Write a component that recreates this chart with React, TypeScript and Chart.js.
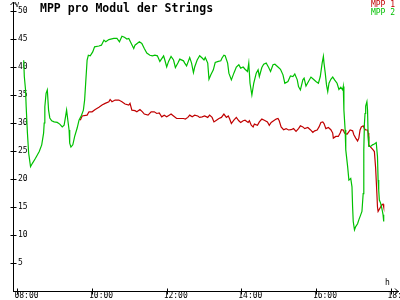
import React, { useEffect, useRef } from "react";
import { Chart, registerables } from "chart.js";

Chart.register(...registerables);

const TITLE = "MPP pro Modul der Strings";
const SERIES_LABELS = ["MPP 1", "MPP 2"];
const Y_UNIT = "V";
const X_UNIT = "h";
const Y_TICKS = [5, 10, 15, 20, 25, 30, 35, 40, 45, 50];
const X_TICK_HOURS = [8, 10, 12, 14, 16, 18];

const mpp1Times = [
  "09:41", "09:44", "09:52", "09:55", "10:00", "10:05", "10:11", "10:16", "10:21", "10:27",
  "10:29", "10:32", "10:37", "10:43", "10:48", "10:53", "10:59", "11:01", "11:04", "11:09",
  "11:12", "11:17", "11:21", "11:24", "11:30", "11:35", "11:40", "11:44", "11:48", "11:52",
  "11:56", "12:00", "12:04", "12:07", "12:11", "12:16", "12:21", "12:27", "12:30", "12:34",
  "12:37", "12:41", "12:45", "12:50", "12:53", "12:57", "13:01", "13:06", "13:09", "13:13",
  "13:16", "13:20", "13:24", "13:28", "13:32", "13:36", "13:39", "13:41", "13:44", "13:48",
  "13:52", "13:56", "13:59", "14:03", "14:06", "14:11", "14:13", "14:16", "14:19", "14:21",
  "14:26", "14:29", "14:33", "14:37", "14:42", "14:45", "14:48", "14:52", "14:56", "14:59",
  "15:01", "15:04", "15:08", "15:12", "15:16", "15:20", "15:24", "15:28", "15:32", "15:35",
  "15:39", "15:42", "15:47", "15:51", "15:55", "15:58", "16:02", "16:05", "16:08", "16:11",
  "16:13", "16:16", "16:20", "16:24", "16:27", "16:28", "16:32", "16:36", "16:39", "16:41",
  "16:44", "16:46", "16:50", "16:52", "16:55", "16:59", "17:01", "17:04", "17:07", "17:09",
  "17:11", "17:13", "17:16", "17:18", "17:20", "17:23", "17:24", "17:25", "17:28", "17:32",
  "17:34", "17:36", "17:38", "17:39", "17:40", "17:42", "17:44", "17:46", "17:48", "17:49",
];
const mpp1Values = [
  30.5, 31.25, 31.4, 32.0, 32.0, 32.4, 32.8, 33.2, 33.5, 33.8,
  34.2, 33.8, 34.1, 34.1, 33.8, 33.4, 33.2, 33.5, 32.3, 32.2,
  32.0, 32.4, 32.0, 31.6, 31.4, 32.0, 32.0, 31.7, 31.8, 31.1,
  31.4, 31.1, 31.4, 31.6, 31.25, 30.8, 30.8, 30.8, 30.7, 31.0,
  31.4, 31.1, 31.4, 31.25, 31.0, 31.1, 31.25, 31.0, 31.4, 31.0,
  30.2, 30.5, 30.8, 31.0, 31.6, 31.0, 31.25, 30.8, 29.9, 30.5,
  31.0, 30.4, 30.1, 30.4, 30.5, 30.1, 30.4, 29.6, 29.3, 29.8,
  29.6, 30.2, 30.7, 30.5, 30.2, 29.6, 30.1, 30.4, 30.7, 30.8,
  30.4, 29.3, 28.8, 29.0, 28.75, 28.8, 29.0, 28.5, 29.0, 29.5,
  29.3, 29.0, 29.2, 28.8, 28.3, 28.6, 28.75, 29.3, 30.1, 30.2,
  29.9, 29.0, 29.2, 28.8, 28.2, 27.3, 27.6, 27.6, 28.2, 28.8,
  28.75, 28.2, 28.0, 28.3, 28.75, 28.6, 27.9, 27.3, 26.8, 27.3,
  28.75, 29.3, 29.5, 29.0, 28.75, 28.75, 28.2, 26.1, 25.7, 25.2,
  24.9, 22.0, 17.5, 15.0, 14.2, 14.6, 15.0, 15.4, 15.5, 15.0,
];

const mpp2Times = [
  "08:10", "08:11", "08:13", "08:14", "08:16", "08:18", "08:21", "08:24", "08:29", "08:35",
  "08:39", "08:42", "08:43", "08:44", "08:46", "08:48", "08:50", "08:52", "08:55", "08:59",
  "09:04", "09:08", "09:12", "09:15", "09:17", "09:19", "09:21", "09:23", "09:24", "09:26",
  "09:29", "09:32", "09:36", "09:39", "09:43", "09:46", "09:48", "09:50", "09:52", "09:54",
  "09:57", "10:01", "10:04", "10:11", "10:15", "10:19", "10:22", "10:27", "10:35", "10:40",
  "10:44", "10:48", "10:52", "10:56", "10:59", "11:03", "11:07", "11:09", "11:16", "11:20",
  "11:24", "11:28", "11:33", "11:37", "11:41", "11:45", "11:49", "11:55", "11:57", "12:00",
  "12:03", "12:07", "12:11", "12:14", "12:18", "12:21", "12:27", "12:29", "12:32", "12:35",
  "12:37", "12:40", "12:43", "12:45", "12:49", "12:53", "12:57", "13:00", "13:02", "13:06",
  "13:08", "13:11", "13:15", "13:18", "13:23", "13:27", "13:29", "13:32", "13:34", "13:38",
  "13:40", "13:44", "13:48", "13:52", "13:56", "13:59", "14:03", "14:06", "14:10", "14:12",
  "14:14", "14:17", "14:20", "14:24", "14:27", "14:29", "14:33", "14:36", "14:40", "14:44",
  "14:47", "14:51", "14:54", "14:59", "15:03", "15:07", "15:10", "15:15", "15:19", "15:23",
  "15:26", "15:30", "15:32", "15:35", "15:39", "15:41", "15:44", "15:48", "15:52", "15:56",
  "16:00", "16:04", "16:07", "16:10", "16:12", "16:13", "16:15", "16:17", "16:19", "16:21",
  "16:24", "16:27", "16:30", "16:34", "16:37", "16:40", "16:43", "16:44", "16:45", "16:47",
  "16:48", "16:51", "16:53", "16:56", "16:58", "16:59", "17:00", "17:02", "17:04", "17:07",
  "17:09", "17:12", "17:14", "17:16", "17:17", "17:18", "17:19", "17:20", "17:22", "17:23",
  "17:24", "17:25", "17:28", "17:31", "17:34", "17:37", "17:39", "17:40", "17:41", "17:42",
  "17:44", "17:46", "17:47", "17:48", "17:49",
];
const mpp2Values = [
  41.2, 38.3, 35.9, 32.9, 28.2, 24.6, 22.2, 22.8, 23.7, 24.9,
  26.1, 28.2, 30.0, 32.9, 35.3, 35.9, 32.3, 30.9, 30.4, 30.2,
  30.1, 29.8, 29.3, 29.6, 30.9, 32.3, 30.5, 28.75, 26.4, 25.7,
  26.1, 27.6, 29.1, 30.5, 31.4, 32.3, 34.1, 37.7, 41.25, 42.1,
  42.0, 42.7, 43.6, 43.75, 43.9, 44.8, 44.5, 44.9, 45.1, 45.1,
  44.5, 45.5, 45.3, 45.0, 45.1, 44.2, 43.3, 43.9, 44.5, 44.2,
  43.3, 42.5, 42.1, 42.0, 42.1, 42.0, 41.0, 42.0, 41.25, 40.0,
  41.0, 41.9, 41.25, 39.9, 40.7, 41.4, 41.1, 40.7, 40.2, 41.1,
  41.7, 40.7, 39.0, 40.0, 41.25, 42.0, 41.6, 41.25, 41.7, 40.7,
  37.8, 38.6, 39.5, 40.8, 41.0, 41.1, 41.6, 42.1, 42.0, 40.7,
  38.9, 37.7, 38.9, 40.0, 40.4, 39.8, 40.0, 39.6, 39.2, 40.7,
  37.1, 35.0, 37.1, 38.9, 39.5, 38.3, 39.9, 40.5, 40.7, 39.9,
  39.2, 40.4, 40.5, 40.0, 39.6, 38.6, 37.1, 37.4, 38.4, 38.3,
  38.75, 37.7, 36.5, 35.9, 37.7, 38.0, 36.6, 37.4, 38.2, 37.8,
  37.4, 37.1, 38.3, 40.7, 41.9, 40.7, 38.9, 36.8, 35.6, 37.1,
  37.8, 38.2, 37.7, 37.1, 36.0, 36.4, 35.9, 36.5, 32.3, 28.75,
  25.2, 22.2, 19.8, 20.1, 18.6, 15.0, 12.4, 10.9, 11.5, 12.0,
  12.7, 13.6, 14.2, 17.4, 25.2, 29.9, 31.7, 33.0, 33.8, 32.3,
  27.6, 25.8, 25.8, 26.1, 26.25, 26.5, 24.0, 19.8, 18.0, 16.25,
  15.7, 14.75, 14.2, 13.6, 12.4,
];

const RED = "#c00000";
const GREEN = "#00c000";
const MONO = "'DejaVu Sans Mono', 'Liberation Mono', monospace";

const toHours = (t: string) => {
  const [h, m] = t.split(":").map(Number);
  return h + m / 60;
};
const fmtHour = (v: number) => `${String(Math.round(v)).padStart(2, "0")}:00`;

const decorPlugin = {
  id: "decor",
  afterDraw(chart: any) {
    const { ctx, chartArea, scales } = chart;
    const xs = scales.x;
    const ys = scales.y;
    const ax = Math.round(xs.left) + 0.5;
    const ay = Math.round(ys.bottom) + 0.5;
    ctx.save();
    ctx.strokeStyle = "#000";
    ctx.lineWidth = 1;
    ctx.beginPath();
    ctx.moveTo(ax, chartArea.top);
    ctx.lineTo(ax, 2);
    ctx.moveTo(ax - 3, 5);
    ctx.lineTo(ax, 2);
    ctx.lineTo(ax + 3, 5);
    const right = chartArea.right;
    ctx.moveTo(right - 3, ay - 3);
    ctx.lineTo(right, ay);
    ctx.lineTo(right - 3, ay + 3);
    Y_TICKS.forEach((v) => {
      const py = Math.round(ys.getPixelForValue(v)) + 0.5;
      ctx.moveTo(ax - 3, py);
      ctx.lineTo(ax + 3, py);
    });
    X_TICK_HOURS.forEach((h) => {
      const px = Math.round(xs.getPixelForValue(h)) + 0.5;
      ctx.moveTo(px, ay - 3);
      ctx.lineTo(px, ay + 3);
    });
    ctx.stroke();

    ctx.fillStyle = "#000";
    ctx.textBaseline = "alphabetic";
    ctx.textAlign = "left";
    ctx.font = `bold 11.5px ${MONO}`;
    ctx.fillText(TITLE, 40, 12);
    ctx.font = `7px ${MONO}`;
    ctx.fillText(Y_UNIT, 15, 7);
    ctx.font = `8px ${MONO}`;
    ctx.fillText(X_UNIT, 385, 285);
    ctx.textAlign = "right";
    ctx.fillStyle = RED;
    ctx.fillText(SERIES_LABELS[0], 395, 7);
    ctx.fillStyle = GREEN;
    ctx.fillText(SERIES_LABELS[1], 395, 15);
    ctx.restore();
  },
};

export default function App() {
  const ref = useRef<HTMLCanvasElement>(null);
  useEffect(() => {
    if (!ref.current) return;
    const zeroPad = (s: any) => {
      s.paddingLeft = 0;
      s.paddingRight = 0;
      s.paddingTop = 0;
      s.paddingBottom = 0;
    };
    const chart = new Chart(ref.current, {
      type: "line",
      data: {
        datasets: [
          {
            label: SERIES_LABELS[0],
            data: mpp1Times.map((t, i) => ({ x: toHours(t), y: mpp1Values[i] })),
            borderColor: RED,
            backgroundColor: RED,
            borderWidth: 1.2,
            pointRadius: 0,
            tension: 0,
            order: 1,
          },
          {
            label: SERIES_LABELS[1],
            data: mpp2Times.map((t, i) => ({ x: toHours(t), y: mpp2Values[i] })),
            borderColor: GREEN,
            backgroundColor: GREEN,
            borderWidth: 1.2,
            pointRadius: 0,
            tension: 0,
            order: 0,
          },
        ],
      },
      options: {
        responsive: false,
        animation: false,
        devicePixelRatio: 1,
        layout: { padding: { left: 3, right: 2, top: 11, bottom: 0 } },
        plugins: {
          legend: { display: false },
          title: { display: false },
          tooltip: { enabled: false },
        },
        scales: {
          x: {
            type: "linear",
            min: 7.88,
            max: 18.2,
            afterFit: zeroPad,
            afterBuildTicks: (s: any) => {
              s.ticks = X_TICK_HOURS.map((v) => ({ value: v }));
            },
            ticks: {
              autoSkip: false,
              maxRotation: 0,
              includeBounds: false,
              padding: 0.5,
              labelOffset: 9,
              color: "#000",
              font: { family: MONO, size: 8, lineHeight: 1 },
              callback: (v: any) => fmtHour(Number(v)),
            },
            grid: { display: false, drawTicks: false },
            border: { display: true, color: "#000", width: 1 },
          },
          y: {
            min: 0,
            max: 50,
            afterFit: zeroPad,
            afterBuildTicks: (s: any) => {
              s.ticks = Y_TICKS.map((v) => ({ value: v }));
            },
            ticks: {
              mirror: true,
              padding: 5,
              color: "#000",
              font: { family: MONO, size: 8, lineHeight: 1 },
              callback: (v: any) => String(v),
            },
            grid: { display: false, drawTicks: false },
            border: { display: true, color: "#000", width: 1 },
          },
        },
      },
      plugins: [decorPlugin],
    });
    return () => chart.destroy();
  }, []);
  return (
    <div style={{ position: "absolute", left: 0, top: 0, width: 400, height: 300, background: "#fff" }}>
      <canvas ref={ref} width={400} height={300} style={{ display: "block" }} />
    </div>
  );
}
